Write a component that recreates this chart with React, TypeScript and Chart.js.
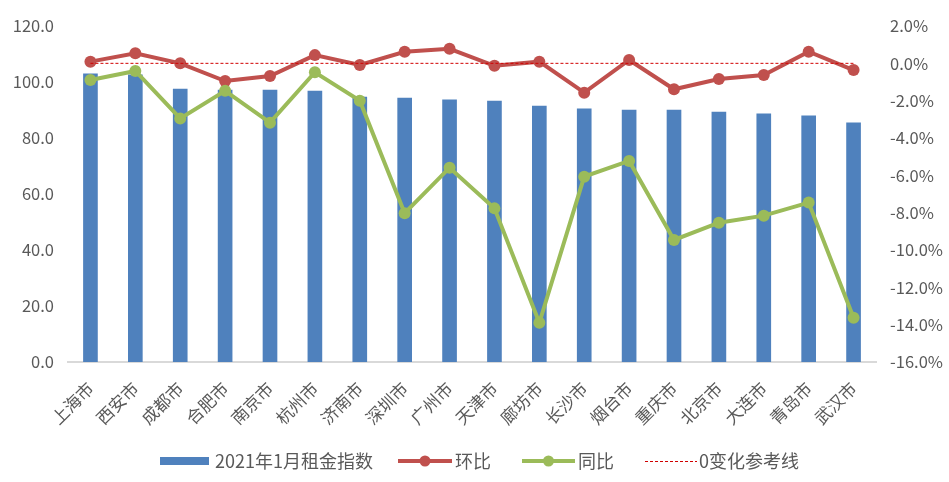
import React, { useEffect, useRef } from "react";
import { Chart, registerables } from "chart.js";

Chart.register(...registerables);

const cities = ["上海市", "西安市", "成都市", "合肥市", "南京市", "杭州市", "济南市", "深圳市", "广州市", "天津市", "廊坊市", "长沙市", "烟台市", "重庆市", "北京市", "大连市", "青岛市", "武汉市"];
const rentIndex = [102.9, 102.6, 97.5, 97.1, 97.1, 96.8, 94.6, 94.3, 93.6, 93.2, 91.4, 90.4, 90.0, 90.0, 89.3, 88.6, 87.9, 85.4];
const momChange = [0.09, 0.54, 0.0, -0.95, -0.68, 0.44, -0.09, 0.62, 0.78, -0.13, 0.09, -1.57, 0.18, -1.39, -0.84, -0.63, 0.62, -0.36];
const yoyChange = [-0.89, -0.41, -2.95, -1.47, -3.18, -0.48, -2.0, -8.03, -5.59, -7.77, -13.9, -6.07, -5.23, -9.46, -8.54, -8.16, -7.46, -13.63];
const zeroLine = [0, 0, 0, 0, 0, 0, 0, 0, 0, 0, 0, 0, 0, 0, 0, 0, 0, 0];

const leftTicks = { min: 0, max: 120, step: 20 };
const rightTicks = { min: -16, max: 2, step: 2 };

const seriesNames = ["2021年1月租金指数", "环比", "同比", "0变化参考线"];

const FONT = '"Noto Sans CJK SC", "Microsoft YaHei", sans-serif';
const TEXT = "#595959";
const BLUE = "#4F81BD";
const RED = "#C0504D";
const GREEN = "#9BBB59";
const DASH = "#D00000";

const legendPlugin = {
  id: "customLegend",
  afterDraw(chart: any) {
    const ctx = chart.ctx as CanvasRenderingContext2D;
    const y = 461;
    ctx.save();
    ctx.font = `18px ${FONT}`;
    ctx.textBaseline = "middle";
    ctx.textAlign = "left";
    ctx.fillStyle = BLUE;
    ctx.fillRect(160, y - 4, 49, 8);
    ctx.fillStyle = TEXT;
    ctx.fillText(seriesNames[0], 215, y);
    const lineItem = (x0: number, x1: number, color: string, label: string, tx: number) => {
      ctx.strokeStyle = color;
      ctx.lineWidth = 4;
      ctx.beginPath();
      ctx.moveTo(x0, y);
      ctx.lineTo(x1, y);
      ctx.stroke();
      ctx.fillStyle = color;
      ctx.beginPath();
      ctx.arc((x0 + x1) / 2, y, 5.5, 0, Math.PI * 2);
      ctx.fill();
      ctx.fillStyle = TEXT;
      ctx.fillText(label, tx, y);
    };
    lineItem(398, 452, RED, seriesNames[1], 455);
    lineItem(522, 575, GREEN, seriesNames[2], 578);
    ctx.strokeStyle = DASH;
    ctx.lineWidth = 1;
    ctx.setLineDash([3, 2]);
    ctx.beginPath();
    ctx.moveTo(645, y + 0.5);
    ctx.lineTo(697, y + 0.5);
    ctx.stroke();
    ctx.setLineDash([]);
    ctx.fillStyle = TEXT;
    ctx.fillText(seriesNames[3], 699, y);
    ctx.restore();
  },
};

export default function App() {
  const ref = useRef<HTMLCanvasElement | null>(null);

  useEffect(() => {
    if (!ref.current) return;
    const chart = new Chart(ref.current, {
      type: "bar",
      data: {
        labels: cities,
        datasets: [
          {
            type: "line",
            label: seriesNames[3],
            data: zeroLine,
            yAxisID: "y1",
            borderColor: DASH,
            borderWidth: 1,
            borderDash: [3, 2],
            pointRadius: 0,
            fill: false,
            order: 1,
          } as any,
          {
            type: "line",
            label: seriesNames[2],
            data: yoyChange,
            yAxisID: "y1",
            borderColor: GREEN,
            backgroundColor: GREEN,
            borderWidth: 4,
            pointRadius: 6,
            pointBackgroundColor: GREEN,
            pointBorderColor: GREEN,
            pointBorderWidth: 0,
            fill: false,
            order: 2,
          } as any,
          {
            type: "line",
            label: seriesNames[1],
            data: momChange,
            yAxisID: "y1",
            borderColor: RED,
            backgroundColor: RED,
            borderWidth: 4,
            pointRadius: 6,
            pointBackgroundColor: RED,
            pointBorderColor: RED,
            pointBorderWidth: 0,
            fill: false,
            order: 3,
          } as any,
          {
            type: "bar",
            label: seriesNames[0],
            data: rentIndex,
            yAxisID: "y",
            backgroundColor: BLUE,
            barThickness: 14,
            order: 4,
          } as any,
        ],
      },
      options: {
        animation: false,
        responsive: true,
        maintainAspectRatio: false,
        layout: { padding: { top: 26, left: 0, right: 0, bottom: 0 } },
        plugins: {
          legend: { display: false },
          tooltip: { enabled: false },
        },
        scales: {
          x: {
            grid: { display: false, drawTicks: false },
            border: { display: true, color: "#D9D9D9", width: 2 },
            ticks: {
              color: TEXT,
              font: { family: FONT, size: 17 },
              maxRotation: 45,
              minRotation: 45,
              autoSkip: false,
              padding: 16,
            },
            afterFit(scale: any) {
              scale.height = 120;
            },
          },
          y: {
            position: "left",
            min: leftTicks.min,
            max: leftTicks.max,
            grid: { display: false, drawTicks: false },
            border: { display: false },
            ticks: {
              stepSize: leftTicks.step,
              color: TEXT,
              font: { family: FONT, size: 16.5 },
              padding: 14,
              callback: (v: any) => Number(v).toFixed(1),
            },
            afterFit(scale: any) {
              scale.width = 68;
            },
          },
          y1: {
            position: "right",
            min: rightTicks.min,
            max: rightTicks.max,
            grid: { display: false, drawTicks: false },
            border: { display: false },
            ticks: {
              stepSize: rightTicks.step,
              color: TEXT,
              font: { family: FONT, size: 16.5 },
              padding: 14,
              callback: (v: any) => Number(v).toFixed(1) + "%",
            },
            afterFit(scale: any) {
              scale.width = 73;
            },
          },
        },
      },
      plugins: [legendPlugin],
    });
    return () => chart.destroy();
  }, []);

  return (
    <div style={{ position: "absolute", left: 0, top: 0, width: 949, height: 482, background: "#fff" }}>
      <canvas ref={ref} />
    </div>
  );
}
